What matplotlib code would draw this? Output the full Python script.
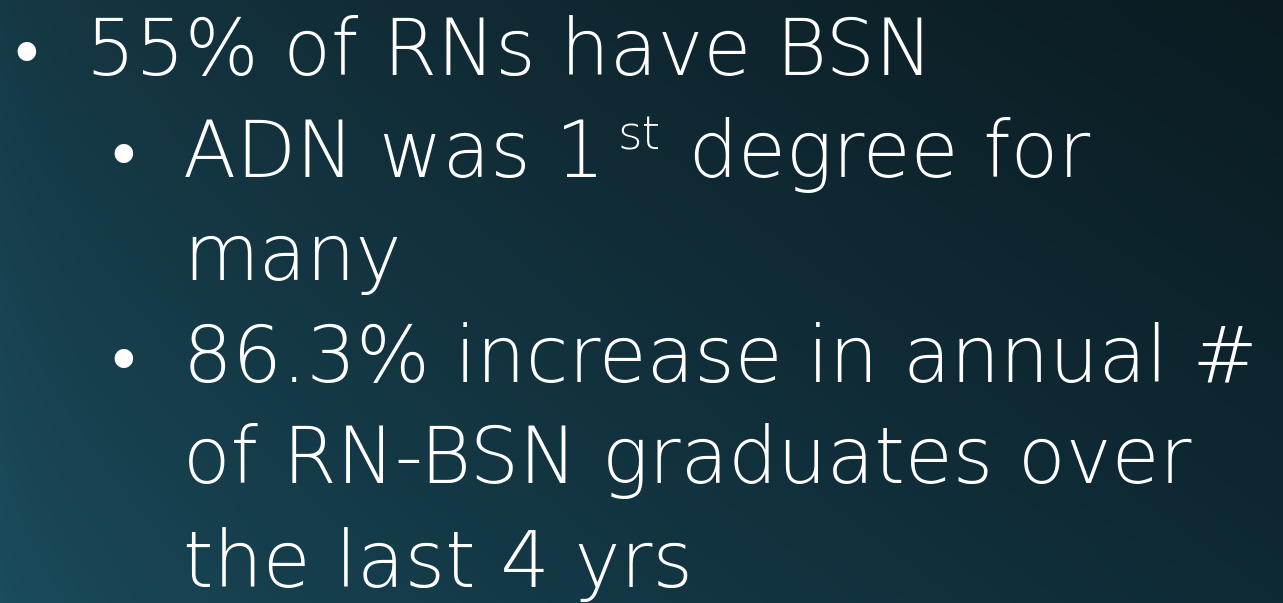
import numpy as np
import matplotlib
matplotlib.use("Agg")
import matplotlib.pyplot as plt

# ---- content ----
line_levels = [0, 1, 1, 1, 1, 1]
line_bullets = [True, True, False, True, False, False]
line_texts = [
    ["55% of RNs have BSN"],
    ["ADN was 1", "st", " degree for"],
    ["many"],
    ["86.3% increase in annual #"],
    ["of RN-BSN graduates over"],
    ["the last 4 yrs"],
]
superscript_piece = {1: 1}   # line index -> piece index drawn as superscript

W, H = 1283, 603
fig = plt.figure(figsize=(W / 100, H / 100), dpi=100)
ax = fig.add_axes([0, 0, 1, 1])
ax.set_xlim(0, W)
ax.set_ylim(H, 0)
ax.axis("off")

# ---- background gradient: light teal bottom-left, dark top-right ----
yy, xx = np.mgrid[0:H, 0:W].astype(float)
u = (xx / (W - 1)) ** 0.65
v = yy / (H - 1)
c_tl = np.array([22, 58, 71]) / 255
c_bl = np.array([27, 77, 93]) / 255
c_tr = np.array([11, 27, 33]) / 255
c_br = np.array([14, 42, 53]) / 255
img = ((1 - u)[..., None] * ((1 - v)[..., None] * c_tl + v[..., None] * c_bl)
       + u[..., None] * ((1 - v)[..., None] * c_tr + v[..., None] * c_br))
ax.imshow(np.clip(img, 0, 1), extent=(0, W, H, 0), aspect="auto", zorder=0,
          interpolation="bilinear")

FONT = "DejaVu Sans"
FS = 56
SUP_FS = 34
baselines = [75, 177, 280, 382, 483, 587]
text_x = {0: 86, 1: 183}
bullet_x = {0: 26, 1: 123}

fig.canvas.draw()
renderer = fig.canvas.get_renderer()

for i, pieces in enumerate(line_texts):
    lvl = line_levels[i]
    yb = baselines[i]
    if line_bullets[i]:
        ax.text(bullet_x[lvl], yb + 1, "\u2022", color="white", fontsize=46,
                family=FONT, ha="center", va="baseline", zorder=3)
    x = text_x[lvl]
    for j, piece in enumerate(pieces):
        is_sup = superscript_piece.get(i) == j
        if is_sup:
            x += 12
        tt = ax.text(x, yb - (27 if is_sup else 0), piece, color="white",
                     fontsize=SUP_FS if is_sup else FS, family=FONT,
                     fontweight="light", ha="left", va="baseline", zorder=3)
        bb = tt.get_window_extent(renderer)
        x += bb.width + (4 if is_sup else 0)

fig.savefig("out.png", dpi=100)
